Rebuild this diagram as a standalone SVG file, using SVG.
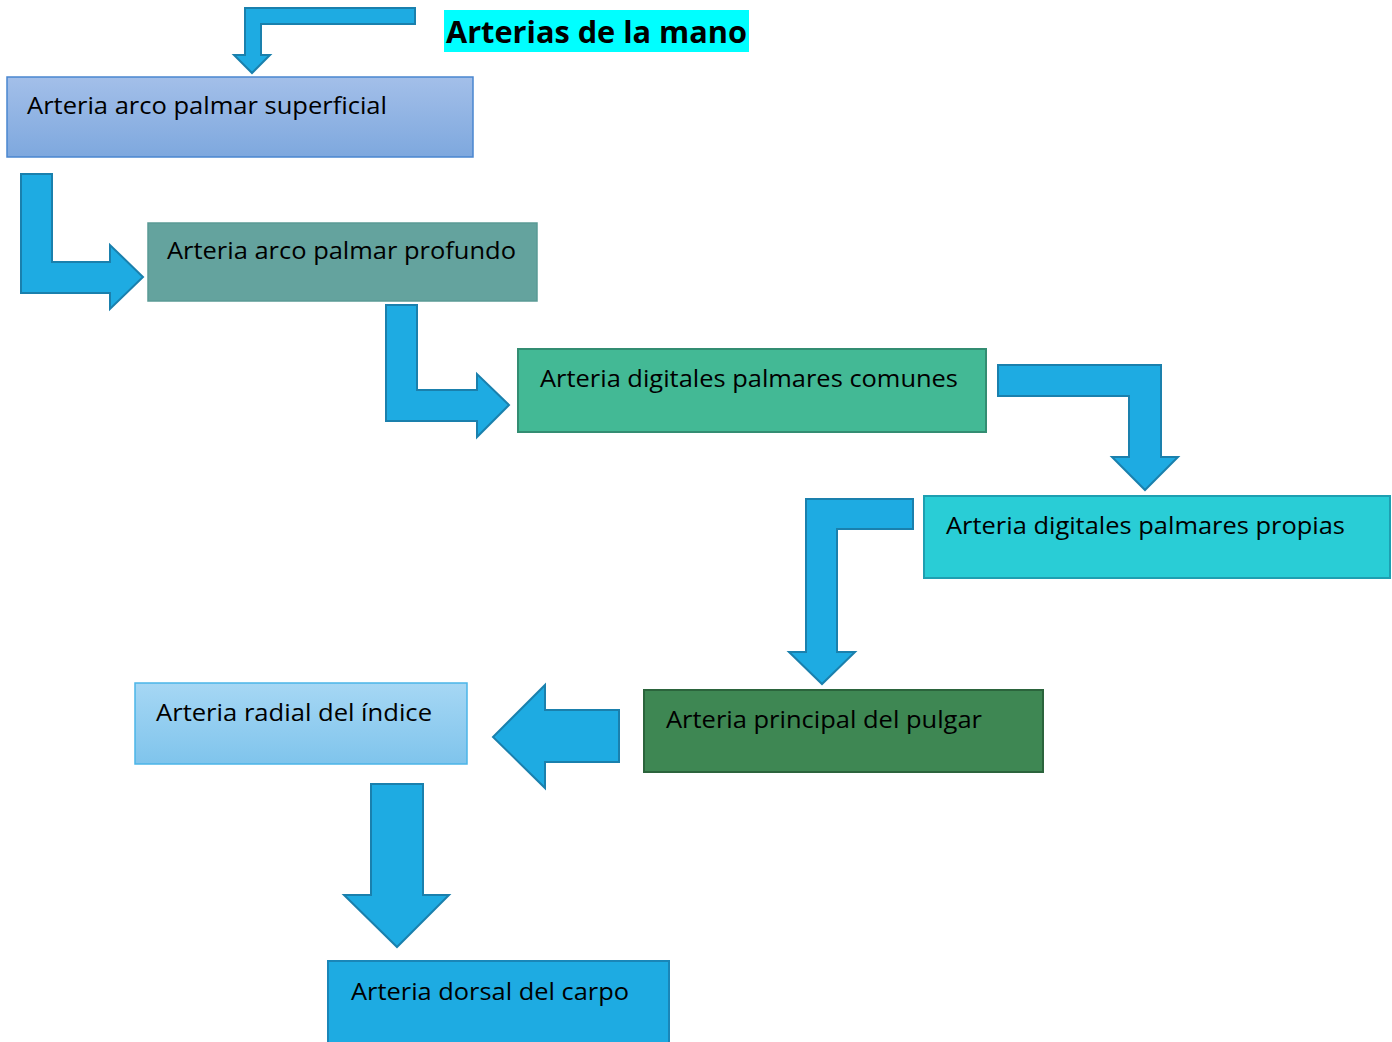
<svg xmlns="http://www.w3.org/2000/svg" width="1392" height="1042" viewBox="0 0 1392 1042">
<defs>
<linearGradient id="g1" x1="0" y1="0" x2="0" y2="1"><stop offset="0" stop-color="#a3bfe9"/><stop offset="1" stop-color="#7ea8de"/></linearGradient>
<linearGradient id="g6" x1="0" y1="0" x2="0" y2="1"><stop offset="0" stop-color="#a6d7f4"/><stop offset="1" stop-color="#7fc4ec"/></linearGradient>
<style>
.arrow{fill:#1eabe2;stroke:#1a80ad;stroke-width:2;stroke-linejoin:miter}
.lbl{font-family:"Open Sans","Noto Sans","Liberation Sans",sans-serif;font-size:24px;fill:#000}
.title{font-family:"Open Sans","Noto Sans","Liberation Sans",sans-serif;font-size:30px;font-weight:bold;fill:#000}
</style>
</defs>
<rect width="1392" height="1042" fill="#fff"/>
<g id="title">
<rect x="444" y="10" width="305" height="42" fill="#00ffff"/>
<text class="title" x="446" y="43" textLength="301" lengthAdjust="spacingAndGlyphs">Arterias de la mano</text>
</g>
<g id="connectors">
<path class="arrow" d="M415,8 L245,8 L245,55 L234,55 L252,73 L270,55 L261,55 L261,24 L415,24 Z"/>
<path class="arrow" d="M21,174 L52,174 L52,262 L110,262 L110,245 L143,277 L110,309 L110,293 L21,293 Z"/>
<path class="arrow" d="M386,305 L417,305 L417,390 L477,390 L477,374 L509,405 L477,437 L477,421 L386,421 Z"/>
<path class="arrow" d="M998,365 L1161,365 L1161,457 L1178,457 L1145,490 L1112,457 L1129,457 L1129,396 L998,396 Z"/>
<path class="arrow" d="M913,499 L806,499 L806,652 L789,652 L822,684 L855,652 L837,652 L837,529 L913,529 Z"/>
<path class="arrow" d="M619,710 L545,710 L545,685 L493,737 L545,788 L545,762 L619,762 Z"/>
<path class="arrow" d="M371,784 L423,784 L423,895 L449,895 L397,947 L344,895 L371,895 Z"/>
</g>
<g id="n1">
<rect x="7" y="77" width="466" height="80" fill="url(#g1)" stroke="#4a86cf" stroke-width="1.5"/>
<text class="lbl" x="27" y="114" textLength="360" lengthAdjust="spacingAndGlyphs">Arteria arco palmar superficial</text>
</g>
<g id="n2">
<rect x="148" y="223" width="389" height="78" fill="#64a39e" stroke="#5a9a95" stroke-width="1.5"/>
<text class="lbl" x="167" y="259" textLength="349" lengthAdjust="spacingAndGlyphs">Arteria arco palmar profundo</text>
</g>
<g id="n3">
<rect x="518" y="349" width="468" height="83" fill="#43b995" stroke="#338d72" stroke-width="2"/>
<text class="lbl" x="540" y="387" textLength="418" lengthAdjust="spacingAndGlyphs">Arteria digitales palmares comunes</text>
</g>
<g id="n4">
<rect x="924" y="496" width="466" height="82" fill="#29cdd6" stroke="#1e9fb1" stroke-width="2"/>
<text class="lbl" x="946" y="534" textLength="399" lengthAdjust="spacingAndGlyphs">Arteria digitales palmares propias</text>
</g>
<g id="n5">
<rect x="644" y="690" width="399" height="82" fill="#3e8753" stroke="#2b643c" stroke-width="2"/>
<text class="lbl" x="666" y="728" textLength="316" lengthAdjust="spacingAndGlyphs">Arteria principal del pulgar</text>
</g>
<g id="n6">
<rect x="135" y="683" width="332" height="81" fill="url(#g6)" stroke="#4bb5e8" stroke-width="1.5"/>
<text class="lbl" x="156" y="721" textLength="276" lengthAdjust="spacingAndGlyphs">Arteria radial del índice</text>
</g>
<g id="n7">
<rect x="328" y="961" width="341" height="90" fill="#1eabe2" stroke="#1a86b8" stroke-width="2"/>
<text class="lbl" x="351" y="1000" textLength="278" lengthAdjust="spacingAndGlyphs">Arteria dorsal del carpo</text>
</g>
</svg>
